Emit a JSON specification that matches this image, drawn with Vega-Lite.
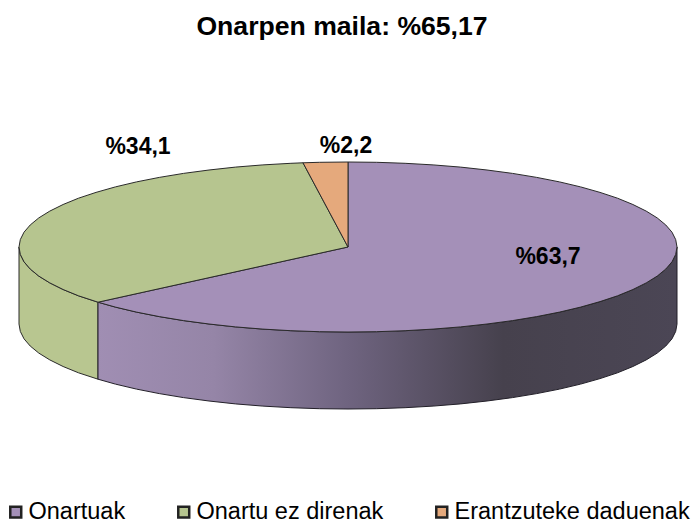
{"$schema":"https://vega.github.io/schema/vega-lite/v6.json","width":698,"height":524,"padding":0,"autosize":"none","background":"white","config":{"view":{"stroke":null},"font":"Liberation Sans"},
"title":{"text":"Onarpen maila: %65,17","font":"Liberation Sans","fontSize":26.6,"fontWeight":"bold","color":"#000000","anchor":"middle","offset":-41,"dx":-7},
"datasets":{
"top":[
{"s":"Onartuak","i":0,"x":0,"y":0},{"s":"Onartuak","i":1,"x":0,"y":85},{"s":"Onartuak","i":2,"x":28.7,"y":84.7},{"s":"Onartuak","i":3,"x":57.1,"y":83.7},{"s":"Onartuak","i":4,"x":85.1,"y":82.1},{"s":"Onartuak","i":5,"x":112.5,"y":79.9},{"s":"Onartuak","i":6,"x":139,"y":77},{"s":"Onartuak","i":7,"x":164.5,"y":73.6},{"s":"Onartuak","i":8,"x":188.7,"y":69.6},{"s":"Onartuak","i":9,"x":211.5,"y":65.1},{"s":"Onartuak","i":10,"x":232.6,"y":60.1},{"s":"Onartuak","i":11,"x":252,"y":54.6},{"s":"Onartuak","i":12,"x":269.5,"y":48.8},{"s":"Onartuak","i":13,"x":284.9,"y":42.5},{"s":"Onartuak","i":14,"x":298.2,"y":35.9},{"s":"Onartuak","i":15,"x":309.2,"y":29.1},{"s":"Onartuak","i":16,"x":317.8,"y":22},{"s":"Onartuak","i":17,"x":324,"y":14.8},{"s":"Onartuak","i":18,"x":327.7,"y":7.4},{"s":"Onartuak","i":19,"x":329,"y":0},{"s":"Onartuak","i":20,"x":327.7,"y":-7.4},{"s":"Onartuak","i":21,"x":324,"y":-14.8},{"s":"Onartuak","i":22,"x":317.8,"y":-22},{"s":"Onartuak","i":23,"x":309.2,"y":-29.1},{"s":"Onartuak","i":24,"x":298.2,"y":-35.9},{"s":"Onartuak","i":25,"x":284.9,"y":-42.5},{"s":"Onartuak","i":26,"x":269.5,"y":-48.8},{"s":"Onartuak","i":27,"x":252,"y":-54.6},{"s":"Onartuak","i":28,"x":232.6,"y":-60.1},{"s":"Onartuak","i":29,"x":211.5,"y":-65.1},{"s":"Onartuak","i":30,"x":188.7,"y":-69.6},{"s":"Onartuak","i":31,"x":164.5,"y":-73.6},{"s":"Onartuak","i":32,"x":139,"y":-77},{"s":"Onartuak","i":33,"x":112.5,"y":-79.9},{"s":"Onartuak","i":34,"x":85.1,"y":-82.1},{"s":"Onartuak","i":35,"x":57.1,"y":-83.7},{"s":"Onartuak","i":36,"x":28.7,"y":-84.7},{"s":"Onartuak","i":37,"x":0,"y":-85},{"s":"Onartuak","i":38,"x":-28.7,"y":-84.7},{"s":"Onartuak","i":39,"x":-57.1,"y":-83.7},{"s":"Onartuak","i":40,"x":-85.1,"y":-82.1},{"s":"Onartuak","i":41,"x":-112.5,"y":-79.9},{"s":"Onartuak","i":42,"x":-139,"y":-77},{"s":"Onartuak","i":43,"x":-164.5,"y":-73.6},{"s":"Onartuak","i":44,"x":-188.7,"y":-69.6},{"s":"Onartuak","i":45,"x":-211.5,"y":-65.1},{"s":"Onartuak","i":46,"x":-232.6,"y":-60.1},{"s":"Onartuak","i":47,"x":-250,"y":-55.2},{"s":"Onartuak","i":48,"x":0,"y":0},
{"s":"Onartu ez direnak","i":0,"x":0,"y":0},{"s":"Onartu ez direnak","i":1,"x":-250,"y":-55.2},{"s":"Onartu ez direnak","i":2,"x":-269.5,"y":-48.8},{"s":"Onartu ez direnak","i":3,"x":-284.9,"y":-42.5},{"s":"Onartu ez direnak","i":4,"x":-298.2,"y":-35.9},{"s":"Onartu ez direnak","i":5,"x":-309.2,"y":-29.1},{"s":"Onartu ez direnak","i":6,"x":-317.8,"y":-22},{"s":"Onartu ez direnak","i":7,"x":-324,"y":-14.8},{"s":"Onartu ez direnak","i":8,"x":-327.7,"y":-7.4},{"s":"Onartu ez direnak","i":9,"x":-329,"y":0},{"s":"Onartu ez direnak","i":10,"x":-327.7,"y":7.4},{"s":"Onartu ez direnak","i":11,"x":-324,"y":14.8},{"s":"Onartu ez direnak","i":12,"x":-317.8,"y":22},{"s":"Onartu ez direnak","i":13,"x":-309.2,"y":29.1},{"s":"Onartu ez direnak","i":14,"x":-298.2,"y":35.9},{"s":"Onartu ez direnak","i":15,"x":-284.9,"y":42.5},{"s":"Onartu ez direnak","i":16,"x":-269.5,"y":48.8},{"s":"Onartu ez direnak","i":17,"x":-252,"y":54.6},{"s":"Onartu ez direnak","i":18,"x":-232.6,"y":60.1},{"s":"Onartu ez direnak","i":19,"x":-211.5,"y":65.1},{"s":"Onartu ez direnak","i":20,"x":-188.7,"y":69.6},{"s":"Onartu ez direnak","i":21,"x":-164.5,"y":73.6},{"s":"Onartu ez direnak","i":22,"x":-139,"y":77},{"s":"Onartu ez direnak","i":23,"x":-112.5,"y":79.9},{"s":"Onartu ez direnak","i":24,"x":-85.1,"y":82.1},{"s":"Onartu ez direnak","i":25,"x":-57.1,"y":83.7},{"s":"Onartu ez direnak","i":26,"x":-45,"y":84.2},{"s":"Onartu ez direnak","i":27,"x":0,"y":0},
{"s":"Erantzuteke daduenak","i":0,"x":0,"y":0},{"s":"Erantzuteke daduenak","i":1,"x":-45,"y":84.2},{"s":"Erantzuteke daduenak","i":2,"x":-28.7,"y":84.7},{"s":"Erantzuteke daduenak","i":3,"x":0,"y":85},{"s":"Erantzuteke daduenak","i":4,"x":0,"y":0}
],
"sideP":[{"x":-250,"y":-55.2,"y2":-132.2},{"x":-232.6,"y":-60.1,"y2":-137.1},{"x":-211.5,"y":-65.1,"y2":-142.1},{"x":-188.7,"y":-69.6,"y2":-146.6},{"x":-164.5,"y":-73.6,"y2":-150.6},{"x":-139,"y":-77,"y2":-154},{"x":-112.5,"y":-79.9,"y2":-156.9},{"x":-85.1,"y":-82.1,"y2":-159.1},{"x":-57.1,"y":-83.7,"y2":-160.7},{"x":-28.7,"y":-84.7,"y2":-161.7},{"x":0,"y":-85,"y2":-162},{"x":28.7,"y":-84.7,"y2":-161.7},{"x":57.1,"y":-83.7,"y2":-160.7},{"x":85.1,"y":-82.1,"y2":-159.1},{"x":112.5,"y":-79.9,"y2":-156.9},{"x":139,"y":-77,"y2":-154},{"x":164.5,"y":-73.6,"y2":-150.6},{"x":188.7,"y":-69.6,"y2":-146.6},{"x":211.5,"y":-65.1,"y2":-142.1},{"x":232.6,"y":-60.1,"y2":-137.1},{"x":252,"y":-54.6,"y2":-131.6},{"x":269.5,"y":-48.8,"y2":-125.8},{"x":284.9,"y":-42.5,"y2":-119.5},{"x":298.2,"y":-35.9,"y2":-112.9},{"x":309.2,"y":-29.1,"y2":-106.1},{"x":317.8,"y":-22,"y2":-99},{"x":324,"y":-14.8,"y2":-91.8},{"x":327.7,"y":-7.4,"y2":-84.4},{"x":329,"y":0,"y2":-77}],
"sideG":[{"x":-329,"y":0,"y2":-77},{"x":-327.7,"y":-7.4,"y2":-84.4},{"x":-324,"y":-14.8,"y2":-91.8},{"x":-317.8,"y":-22,"y2":-99},{"x":-309.2,"y":-29.1,"y2":-106.1},{"x":-298.2,"y":-35.9,"y2":-112.9},{"x":-284.9,"y":-42.5,"y2":-119.5},{"x":-269.5,"y":-48.8,"y2":-125.8},{"x":-250,"y":-55.2,"y2":-132.2}],
"labels":[{"x":200,"y":-10,"t":"%63,7"},{"x":-210,"y":100,"t":"%34,1"},{"x":-2,"y":101,"t":"%2,2"}]
},
"encoding":{"x":{"field":"x","type":"quantitative","scale":{"domain":[-348,350]},"axis":null},"y":{"field":"y","type":"quantitative","scale":{"domain":[-277,247]},"axis":null}},
"layer":[
{"data":{"name":"sideG"},"mark":{"type":"area","fill":"#b8c690","stroke":"#2a2a2a","strokeWidth":1},"encoding":{"y2":{"field":"y2"}}},
{"data":{"name":"sideP"},"mark":{"type":"area","stroke":"#221f28","strokeWidth":1,"fill":{"gradient":"linear","x1":0,"y1":0,"x2":1,"y2":0,"stops":[{"offset":0,"color":"#a08eb3"},{"offset":0.2,"color":"#9585a7"},{"offset":0.43,"color":"#6f6480"},{"offset":0.7,"color":"#46414d"},{"offset":1,"color":"#4b4655"}]}},"encoding":{"y2":{"field":"y2"}}},
{"data":{"name":"top"},"mark":{"type":"line","stroke":"#2a2a2a","strokeWidth":1,"strokeJoin":"round"},"encoding":{"order":{"field":"i","type":"quantitative"},"detail":{"field":"s"},"fill":{"field":"s","type":"nominal","scale":{"domain":["Onartuak","Onartu ez direnak","Erantzuteke daduenak"],"range":["#a490b8","#b6c58f","#e5a97c"]},"legend":{"title":null,"orient":"none","legendX":4,"legendY":500,"direction":"horizontal","columns":3,"columnPadding":46,"symbolType":"square","symbolSize":120,"symbolStrokeColor":"#222222","symbolStrokeWidth":2.5,"labelFont":"Liberation Sans","labelFontSize":23.5,"labelColor":"#000000","labelOffset":1,"labelLimit":300,"symbolOpacity":1}}}},
{"data":{"name":"labels"},"mark":{"type":"text","font":"Liberation Sans","fontSize":23,"fontWeight":"bold","color":"#000000","baseline":"middle","align":"center"},"encoding":{"text":{"field":"t"}}}
]}
